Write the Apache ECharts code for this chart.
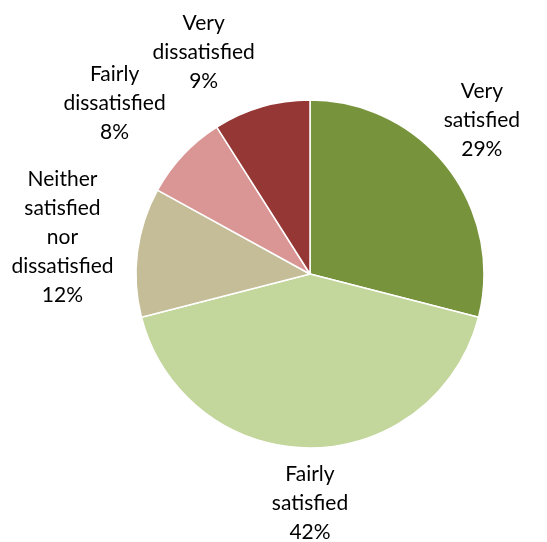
<!DOCTYPE html>
<html>
<head>
<meta charset="utf-8">
<script src="https://cdn.jsdelivr.net/npm/echarts@6/dist/echarts.min.js"></script>
<style>
html,body{margin:0;padding:0;background:#fff;}
#chart{width:547px;height:542px;}
</style>
</head>
<body>
<div id="chart"></div>
<script>
var categories = ['Very satisfied', 'Fairly satisfied', 'Neither satisfied nor dissatisfied', 'Fairly dissatisfied', 'Very dissatisfied'];
var labelTexts = ['Very\nsatisfied', 'Fairly\nsatisfied', 'Neither\nsatisfied\nnor\ndissatisfied', 'Fairly\ndissatisfied', 'Very\ndissatisfied'];
var values = [29, 42, 12, 8, 9];
var colors = ['#77933C', '#C3D69B', '#C4BD97', '#D99694', '#953735'];

var W = 547, H = 542;
var CX = 310, CY = 274, R = 174;
var GX = 24, GY = 12, EDGE = 27;
var total = values.reduce(function (a, b) { return a + b; }, 0);

var chart = echarts.init(document.getElementById('chart'), null, {renderer: 'canvas'});

function midAngle(i) {
  var s = 0;
  for (var k = 0; k < i; k++) s += values[k];
  return (s + values[i] / 2) / total * Math.PI * 2;
}
function clamp(v) { return Math.max(-1, Math.min(1, v)); }

chart.setOption({
  animation: false,
  backgroundColor: '#ffffff',
  series: [{
    type: 'pie',
    center: [CX, CY],
    radius: R,
    startAngle: 90,
    clockwise: true,
    itemStyle: {borderColor: '#ffffff', borderWidth: 1.5},
    label: {
      show: true,
      position: 'outside',
      color: '#000000',
      fontFamily: 'Lato',
      fontSize: 21,
      lineHeight: 29,
      align: 'center',
      overflow: 'none',
      edgeDistance: 0,
      formatter: function (p) {
        return labelTexts[p.dataIndex] + '\n' + Math.round(p.percent) + '%';
      }
    },
    labelLine: {show: false},
    labelLayout: function (p) {
      var a = midAngle(p.dataIndex);
      var ux = Math.sin(a), uy = -Math.cos(a);
      var hw = p.labelRect.width / 2, hh = p.labelRect.height / 2;
      var ax = CX + R * ux, ay = CY + R * uy;
      var x = ax + GX * ux + hw * clamp(ux * 3.6);
      var y = ay + GY * uy + hh * clamp(uy * 1.5);
      if (x + hw > W - EDGE) x = W - EDGE - hw;
      if (x - hw < 8) x = 8 + hw;
      return {x: x, y: y, align: 'center', verticalAlign: 'middle'};
    },
    data: categories.map(function (c, i) {
      return {name: c, value: values[i], itemStyle: {color: colors[i]}};
    })
  }]
});
</script>
</body>
</html>
